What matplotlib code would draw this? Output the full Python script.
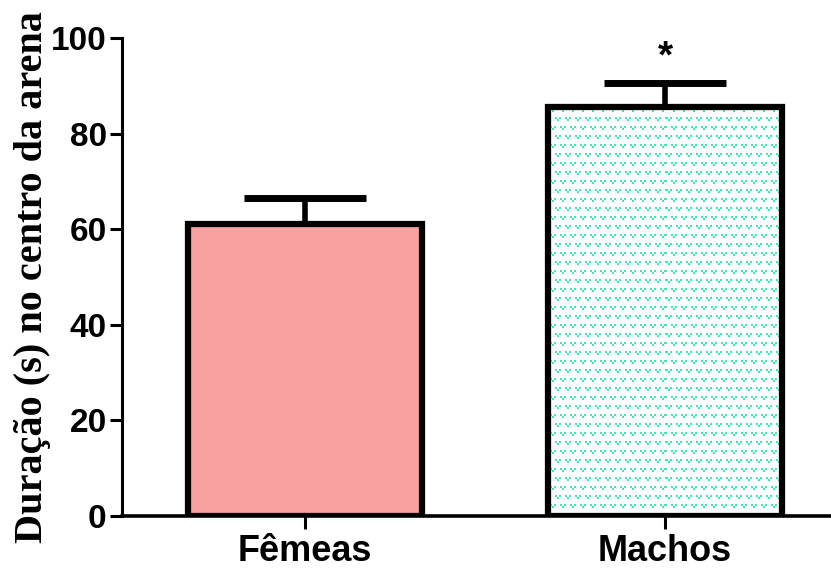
import numpy as np
import matplotlib
matplotlib.use("Agg")
from matplotlib import pyplot as plt

# ======= Data =====================================================
groups = ["Fêmeas", "Machos"]
means = [61.0, 85.5]
sem = [5.5, 5.0]
stars = ["", "*"]

# ======= Style ====================================================
FIG_W, FIG_H, DPI = 831, 572, 100
FEMALE_COLOR = "#F9A0A0"
DOT_COLOR = (64 / 255, 232 / 255, 176 / 255)

plt.rcParams["font.family"] = ["Liberation Sans", "DejaVu Sans"]
plt.rcParams["font.weight"] = "bold"


def pattern_tile() -> np.ndarray:
    # 小さな「v」模様のタイル (行ごとに半分ずらす)
    tile = np.zeros((18, 10), dtype=bool)
    glyph = np.array(
        [
            [1, 1, 0, 0, 1, 1],
            [1, 1, 0, 0, 1, 1],
            [0, 0, 1, 1, 0, 0],
            [0, 0, 1, 1, 0, 0],
        ],
        dtype=bool,
    )
    tile[1:5, 2:8] |= glyph
    tile[10:14, 7:10] |= glyph[:, :3]
    tile[10:14, 0:3] |= glyph[:, 3:]
    return tile


def main() -> None:
    fig = plt.figure(figsize=(FIG_W / DPI, FIG_H / DPI), dpi=DPI)
    ax = fig.add_axes([122 / FIG_W, 1 - 516 / FIG_H, 1 - 122 / FIG_W, (516 - 38) / FIG_H])

    x = np.arange(len(groups))
    ax.set_xlim(-0.508, 1.461)
    ax.set_ylim(0, 100)

    # エラーバー (上側のみ)
    ax.errorbar(
        x,
        means,
        yerr=[np.zeros(len(sem)), sem],
        fmt="none",
        ecolor="black",
        elinewidth=4,
        capsize=44,
        capthick=5,
        zorder=1,
    )

    bars = ax.bar(
        x,
        means,
        width=0.65,
        color=[FEMALE_COLOR, "none"],
        edgecolor="black",
        linewidth=4.5,
        zorder=3,
    )

    # Machos の模様
    fig.canvas.draw()
    bar = bars[1]
    x0, y0 = bar.get_x(), 0
    x1, y1 = bar.get_x() + bar.get_width(), bar.get_height()
    (px0, py0), (px1, py1) = ax.transData.transform([(x0, y0), (x1, y1)])
    w_px, h_px = int(round(px1 - px0)), int(round(py1 - py0))
    tile = pattern_tile()
    reps = (h_px // tile.shape[0] + 2, w_px // tile.shape[1] + 2)
    mask = np.tile(tile, reps)[:h_px, :w_px]
    img = np.ones((h_px, w_px, 4))
    img[mask, :3] = DOT_COLOR
    im = ax.imshow(
        img,
        extent=(x0, x1, y0, y1),
        origin="upper",
        interpolation="nearest",
        aspect="auto",
        zorder=2,
    )
    im.set_clip_path(bar)

    for xi, m, e, s in zip(x, means, sem, stars):
        if s:
            ax.annotate(
                s,
                (xi, m + e),
                xytext=(0, 6),
                textcoords="offset points",
                ha="center",
                va="bottom",
                fontsize=28,
                fontweight="bold",
            )

    ax.set_xticks(x)
    ax.set_xticklabels(groups, fontsize=26, fontweight="bold")
    ax.set_yticks(np.arange(0, 101, 20))
    ax.tick_params(axis="y", labelsize=24, width=2.2, length=9, pad=2)
    ax.tick_params(axis="x", width=2.2, length=9, pad=4)

    for side in ("top", "right"):
        ax.spines[side].set_visible(False)
    ax.spines["left"].set_linewidth(2.2)
    ax.spines["bottom"].set_linewidth(2.6)

    ax.set_ylabel(
        "Duração (s) no centro da arena",
        family=["Liberation Serif", "DejaVu Serif"],
        fontsize=29,
        fontweight="bold",
    )
    ax.yaxis.set_label_coords(-0.100, 0.5)

    fig.savefig("out.png", dpi=DPI)
    plt.close(fig)


if __name__ == "__main__":
    main()
